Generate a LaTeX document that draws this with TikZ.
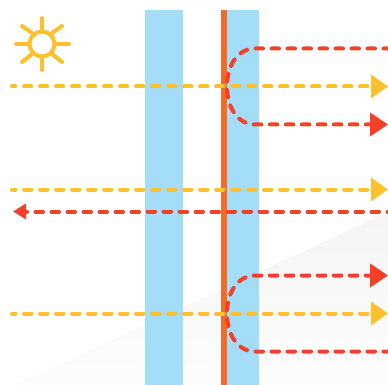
\documentclass[tikz,border=0pt]{standalone}
\usetikzlibrary{arrows.meta}
\definecolor{glassblue}{HTML}{A3DDF8}
\definecolor{coating}{HTML}{F36C26}
\definecolor{sunray}{HTML}{FFC02E}
\definecolor{heatray}{HTML}{F44029}

\begin{document}
\begin{tikzpicture}[x=1pt, y=-1pt]

	\tikzstyle{pane} = [fill=glassblue, draw=none]
	\tikzstyle{film} = [fill=coating, draw=none]
	\tikzstyle{ray} = [line width=4pt, dash pattern=on 7.5pt off 8.5pt, line cap=round]
	\tikzstyle{solar} = [ray, dash phase=4pt, draw=sunray, -{Triangle[length=17pt, width=23pt, fill=sunray]}]
	\tikzstyle{heat} = [ray, dash phase=3pt, draw=heatray]
	\tikzstyle{heathead} = [-{Triangle[length=18pt, width=23pt, fill=heatray]}]
	\tikzstyle{sunline} = [draw=sunray, line width=4pt, line cap=round]

	\useasboundingbox (0,0) rectangle (388,385);

	% floor shadow
	\shade[top color=black!4, bottom color=black!1, draw=none] (15,385) -- (388,212) -- (388,385) -- cycle;

	% glazing
	\fill[pane] (145,10) rectangle (183,385);
	\fill[pane] (227,10) rectangle (259,385);
	\fill[film] (221,10) rectangle (227,385);

	\coordinate (bounce_top) at (227,86.5);
	\coordinate (bounce_low) at (227,313.5);

	% reflected rays
	\draw[heat, heathead] (388,48.5) -- (255,48.5) .. controls (238,48.5) and (227,65) .. (bounce_top) .. controls (227,108) and (238,124.5) .. (255,124.5) -- (388,124.5);
	\draw[heat, heathead] (388,351.5) -- (255,351.5) .. controls (238,351.5) and (227,335) .. (bounce_low) .. controls (227,292) and (238,275.5) .. (255,275.5) -- (388,275.5);
	\draw[heat, dash phase=7pt, -{Triangle[length=13pt, width=15pt, fill=heatray]}] (388,211.5) -- (13,211.5);

	% incoming rays
	\draw[solar] (12,86.5) -- (388,86.5);
	\draw[solar] (12,189.5) -- (388,189.5);
	\draw[solar] (12,313.5) -- (388,313.5);

	% sun
	\draw[sunline] (42,44) circle (12.5);
	\draw[sunline] (42,18) -- (42,30);
	\draw[sunline] (42,58) -- (42,70);
	\draw[sunline] (16,44) -- (28,44);
	\draw[sunline] (57,44) -- (69,44);
	\draw[sunline] (22,26) -- (32,33);
	\draw[sunline] (62,26) -- (52,33);
	\draw[sunline] (22,62) -- (32,54);
	\draw[sunline] (62,62) -- (52,54);

\end{tikzpicture}
\end{document}
